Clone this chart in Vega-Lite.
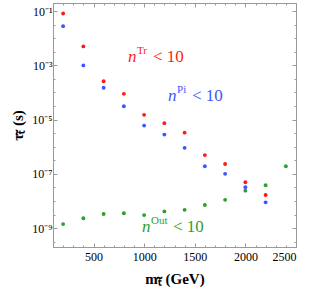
{
  "$schema": "https://vega.github.io/schema/vega-lite/v6.json",
  "width": 243,
  "height": 244,
  "autosize": "none",
  "padding": {"left": 53, "top": 3, "right": 14, "bottom": 47},
  "background": "white",
  "config": {
    "view": {"stroke": "#999999", "strokeWidth": 1},
    "font": "Liberation Serif",
    "text": {"font": "Liberation Serif"},
    "axis": {
      "domainColor": "#999999",
      "tickColor": "#999999",
      "labelColor": "black",
      "labelFont": "Liberation Serif",
      "labelFontSize": 12,
      "titleFont": "Liberation Serif",
      "titleFontWeight": "bold",
      "titleFontSize": 15,
      "titleColor": "black",
      "grid": false
    }
  },
  "datasets": {
    "pts": [
      {"m": 200, "tau": 0.082, "series": "Tr"},
      {"m": 400, "tau": 0.005, "series": "Tr"},
      {"m": 600, "tau": 0.00026, "series": "Tr"},
      {"m": 800, "tau": 0.000089, "series": "Tr"},
      {"m": 1000, "tau": 0.000015, "series": "Tr"},
      {"m": 1200, "tau": 0.0000074, "series": "Tr"},
      {"m": 1400, "tau": 0.0000033, "series": "Tr"},
      {"m": 1600, "tau": 4.9e-7, "series": "Tr"},
      {"m": 1800, "tau": 2.3e-7, "series": "Tr"},
      {"m": 2000, "tau": 4.9e-8, "series": "Tr"},
      {"m": 2200, "tau": 1.66e-8, "series": "Tr"},
      {"m": 200, "tau": 0.028, "series": "Pi"},
      {"m": 400, "tau": 0.001, "series": "Pi"},
      {"m": 600, "tau": 0.00015, "series": "Pi"},
      {"m": 800, "tau": 0.000031, "series": "Pi"},
      {"m": 1000, "tau": 0.000006, "series": "Pi"},
      {"m": 1200, "tau": 0.0000028, "series": "Pi"},
      {"m": 1400, "tau": 9.1e-7, "series": "Pi"},
      {"m": 1600, "tau": 1.9e-7, "series": "Pi"},
      {"m": 1800, "tau": 1.0e-7, "series": "Pi"},
      {"m": 2000, "tau": 3.2e-8, "series": "Pi"},
      {"m": 2200, "tau": 8.9e-9, "series": "Pi"},
      {"m": 200, "tau": 1.4e-9, "series": "Out"},
      {"m": 400, "tau": 2.3e-9, "series": "Out"},
      {"m": 600, "tau": 3.3e-9, "series": "Out"},
      {"m": 800, "tau": 3.5e-9, "series": "Out"},
      {"m": 1000, "tau": 3.0e-9, "series": "Out"},
      {"m": 1200, "tau": 4.1e-9, "series": "Out"},
      {"m": 1400, "tau": 4.7e-9, "series": "Out"},
      {"m": 1600, "tau": 7.1e-9, "series": "Out"},
      {"m": 1800, "tau": 1.1e-8, "series": "Out"},
      {"m": 2000, "tau": 2.4e-8, "series": "Out"},
      {"m": 2200, "tau": 3.8e-8, "series": "Out"},
      {"m": 2400, "tau": 1.9e-7, "series": "Out"}
    ],
    "labels": [
      {"series": "Tr", "m": 841, "mr": 1088, "tau": 0.00132, "sup": "Tr"},
      {"series": "Pi", "m": 1236, "mr": 1473, "tau": 0.000048, "sup": "Pi"},
      {"series": "Out", "m": 979, "mr": 1285, "tau": 7.1e-10, "sup": "Out"}
    ]
  },
  "resolve": {"axis": {"x": "independent", "y": "independent"}},
  "layer": [
    {
      "data": {"name": "pts"},
      "mark": {"type": "circle", "size": 15, "opacity": 1},
      "encoding": {
        "x": {
          "field": "m", "type": "quantitative",
          "scale": {"domain": [100, 2500], "nice": false, "zero": false},
          "axis": {
            "orient": "bottom",
            "values": [500, 1000, 1500, 2000, 2500],
            "format": "d",
            "tickSize": -4,
            "labelPadding": 8,
            "title": "mₜ̃ (GeV)",
            "titlePadding": 9
          }
        },
        "y": {
          "field": "tau", "type": "quantitative",
          "scale": {"type": "log", "domain": [2e-10, 0.2], "nice": false},
          "axis": {
            "orient": "left",
            "values": [1e-9, 1e-7, 1e-5, 1e-3, 1e-1],
            "tickSize": -4,
            "labelPadding": 5,
            "labelExpr": "'10' + ['⁻¹','⁻²','⁻³','⁻⁴','⁻⁵','⁻⁶','⁻⁷','⁻⁸','⁻⁹'][-round(log(datum.value)/LN10)-1]",
            "title": "τₜ̃ (s)",
            "titlePadding": 6
          }
        },
        "color": {
          "field": "series", "type": "nominal",
          "scale": {"domain": ["Tr", "Pi", "Out"], "range": ["#ff1a1a", "#3b55ff", "#2e9e2e"]},
          "legend": null
        }
      }
    },
    {
      "data": {"name": "pts"},
      "mark": {"type": "circle", "size": 15, "opacity": 0},
      "encoding": {
        "x": {
          "field": "m", "type": "quantitative",
          "axis": {"orient": "top", "values": [500, 1000, 1500, 2000, 2500], "tickSize": -4, "labels": false, "title": null}
        },
        "y": {
          "field": "tau", "type": "quantitative",
          "axis": {"orient": "right", "values": [1e-9, 1e-7, 1e-5, 1e-3, 1e-1], "tickSize": -4, "labels": false, "title": null}
        }
      }
    },
    {
      "data": {"name": "pts"},
      "mark": {"type": "circle", "size": 15, "opacity": 0},
      "encoding": {
        "x": {
          "field": "m", "type": "quantitative",
          "axis": {"orient": "bottom", "values": [200, 300, 400, 600, 700, 800, 900, 1100, 1200, 1300, 1400, 1600, 1700, 1800, 1900, 2100, 2200, 2300, 2400], "tickSize": -2, "labels": false, "title": null, "domain": false}
        },
        "y": {
          "field": "tau", "type": "quantitative",
          "axis": {"orient": "left", "values": [3.16e-10, 3.16e-9, 1e-8, 3.16e-8, 3.16e-7, 1e-6, 3.16e-6, 3.16e-5, 1e-4, 3.16e-4, 3.16e-3, 1e-2, 3.16e-2], "tickSize": -2, "labels": false, "title": null, "domain": false}
        }
      }
    },
    {
      "data": {"name": "pts"},
      "mark": {"type": "circle", "size": 15, "opacity": 0},
      "encoding": {
        "x": {
          "field": "m", "type": "quantitative",
          "axis": {"orient": "top", "values": [200, 300, 400, 600, 700, 800, 900, 1100, 1200, 1300, 1400, 1600, 1700, 1800, 1900, 2100, 2200, 2300, 2400], "tickSize": -2, "labels": false, "title": null, "domain": false}
        },
        "y": {
          "field": "tau", "type": "quantitative",
          "axis": {"orient": "right", "values": [3.16e-10, 3.16e-9, 1e-8, 3.16e-8, 3.16e-7, 1e-6, 3.16e-6, 3.16e-5, 1e-4, 3.16e-4, 3.16e-3, 1e-2, 3.16e-2], "tickSize": -2, "labels": false, "title": null, "domain": false}
        }
      }
    },
    {
      "data": {"name": "labels"},
      "mark": {"type": "text", "align": "left", "baseline": "alphabetic", "fontSize": 17, "fontStyle": "italic", "font": "Liberation Serif"},
      "encoding": {
        "x": {"field": "m", "type": "quantitative", "axis": null},
        "y": {"field": "tau", "type": "quantitative", "axis": null},
        "text": {"value": "n"},
        "color": {"field": "series", "type": "nominal", "legend": null}
      }
    },
    {
      "data": {"name": "labels"},
      "mark": {"type": "text", "align": "left", "baseline": "alphabetic", "fontSize": 11, "dx": 9, "dy": -8, "font": "Liberation Serif"},
      "encoding": {
        "x": {"field": "m", "type": "quantitative", "axis": null},
        "y": {"field": "tau", "type": "quantitative", "axis": null},
        "text": {"field": "sup"},
        "color": {"field": "series", "type": "nominal", "legend": null}
      }
    },
    {
      "data": {"name": "labels"},
      "mark": {"type": "text", "align": "left", "baseline": "alphabetic", "fontSize": 17, "font": "Liberation Serif"},
      "encoding": {
        "x": {"field": "mr", "type": "quantitative", "axis": null},
        "y": {"field": "tau", "type": "quantitative", "axis": null},
        "text": {"value": "< 10"},
        "color": {"field": "series", "type": "nominal", "legend": null}
      }
    }
  ]
}
